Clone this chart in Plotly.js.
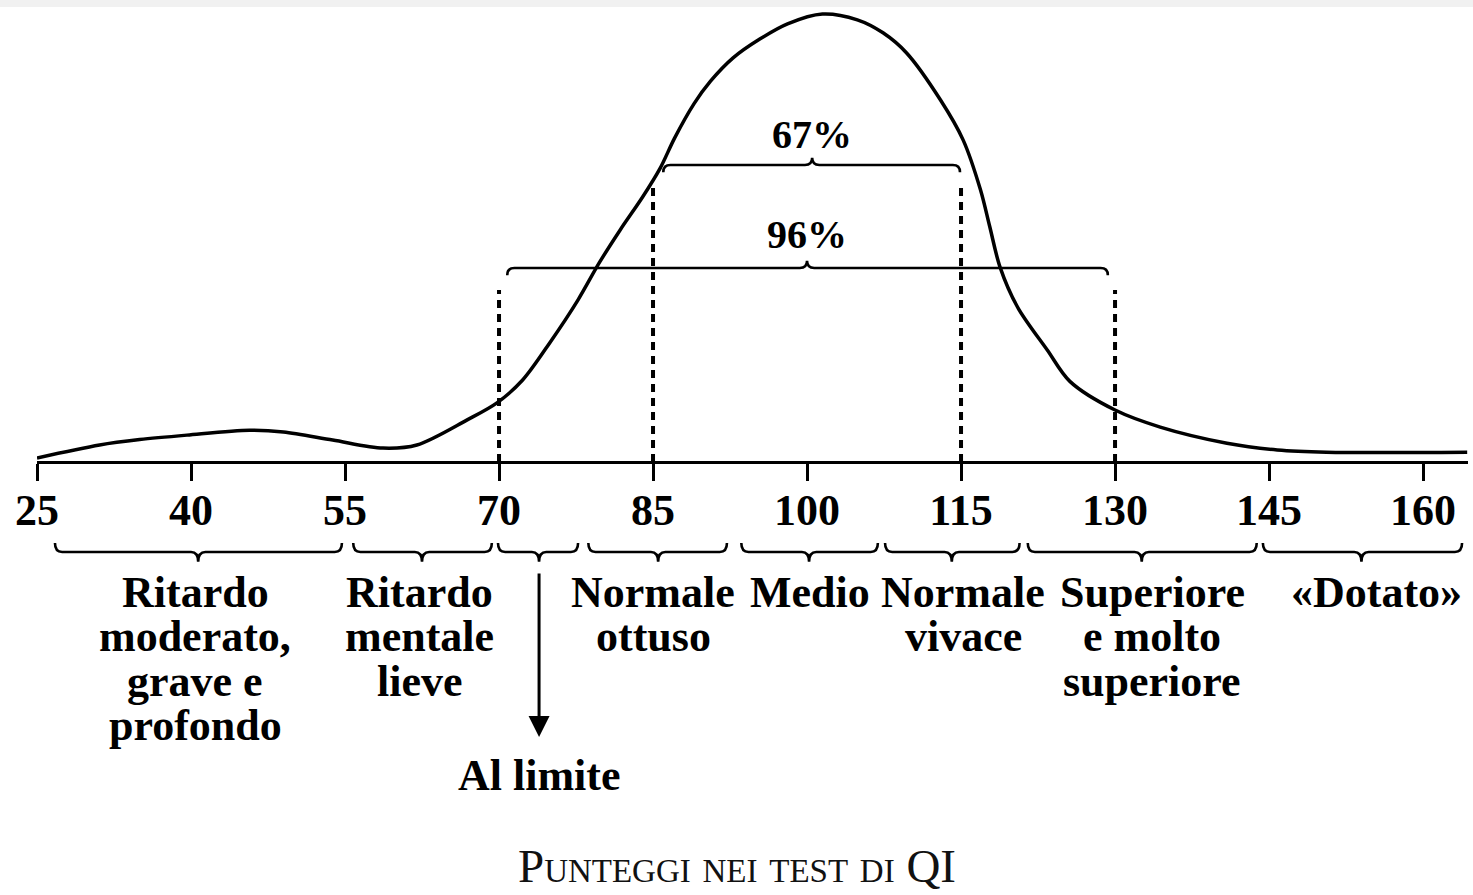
<!DOCTYPE html>
<html>
<head>
<meta charset="utf-8">
<script src="https://cdn.plot.ly/plotly-3.0.1.min.js"></script>
<style>
  html, body { margin: 0; padding: 0; background: #ffffff; }
  #chart { width: 1473px; height: 895px; }
</style>
</head>
<body>
<div id="chart"></div>
<script>
// ---------------- DATA ----------------
const iqScores  = [25, 31.1, 35.0, 39.6, 45.7, 49.0, 53.8, 58.7, 62.0, 66.9, 69.8, 72.3, 75.0, 77.7, 79.8, 81.8, 84.0, 85.7, 87.1, 89.0, 90.6, 92.8, 95.4, 98.1, 101.5, 104.9, 107.4, 109.7, 113.0, 115.2, 116.9, 117.8, 118.8, 120.5, 123.4, 125.6, 130.0, 134.4, 140.9, 145.8, 150.6, 164.3];
const frequency = [0.9, 3.8, 5.0, 6.0, 7.1, 6.7, 4.9, 3.1, 3.8, 9.4, 13.2, 18.3, 26.8, 36.2, 44.6, 51.8, 59.2, 65.6, 72.3, 80.0, 85.0, 90.2, 94.4, 97.8, 100, 98.7, 95.8, 91.3, 80.8, 71.9, 60.7, 52.5, 43.5, 34.6, 25.0, 18.0, 11.6, 7.8, 4.2, 2.7, 2.2, 2.2];

const tickValues = [25, 40, 55, 70, 85, 100, 115, 130, 145, 160];

const cutoffScores  = [70, 85, 115, 130];
const cutoffHeights = [38.4, 61.8, 61.8, 38.4];

const rangeLabels = ["67%", "96%"];
const rangeStart  = [86.0, 70.8];
const rangeEnd    = [114.9, 129.3];
const rangeCenter = [100.5, 100.0];

const categoryLines = [
  ["Ritardo", "moderato,", "grave e", "profondo"],
  ["Ritardo", "mentale", "lieve"],
  ["Normale", "ottuso"],
  ["Medio"],
  ["Normale", "vivace"],
  ["Superiore", "e molto", "superiore"],
  ["«Dotato»"]
];
const categoryCenter = [40.4, 62.3, 85.0, 100.3, 115.2, 133.6, 155.5];

const braceStart = [26.75, 55.8, 69.9, 78.7, 93.6, 107.6, 121.5, 144.4];
const braceEnd   = [54.7, 69.3, 77.7, 92.2, 106.9, 120.7, 143.8, 163.8];
const braceMid   = [40.7, 62.5, 73.9, 85.5, 100.2, 114.1, 132.6, 154.0];

const borderlineLabel = "Al limite";
const borderlineScore = 73.9;

const axisTitle = "Punteggi nei test di QI";

// ---------------- GEOMETRY / STYLE ----------------
const W = 1473, H = 895;
const axisPx = 462;            // pixel row of the x axis line
const pxPerUnitY = 4.48;       // vertical scale (frequency units)
const pxPerUnitX = 10.267;     // horizontal scale (IQ points)
const leftPx = 37, rightPx = 1468;
const yOf = px => (axisPx - px) / pxPerUnitY;   // helper for label placement

const FONT = "Liberation Serif, Times New Roman, serif";

const shapes = [];
// light grey strip on top
shapes.push({type: "rect", xref: "paper", yref: "paper", x0: 0, x1: 1, y0: 1 - 7 / H, y1: 1,
             fillcolor: "#f1f1f1", line: {width: 0}, layer: "below"});

// dashed cutoff lines
cutoffScores.forEach((s, i) => {
  shapes.push({type: "line", xref: "x", yref: "y", x0: s, x1: s, y0: 0, y1: cutoffHeights[i],
               line: {color: "#000", width: 4, dash: "8px,6px"}});
});

function bracePath(x0, x1, xm, yb, dir, hook, tip, dx) {
  const ye = yb - dir * hook;
  const yt = yb + dir * tip;
  return `M ${x0},${ye} Q ${x0},${yb} ${x0 + dx},${yb} L ${xm - dx},${yb} Q ${xm},${yb} ${xm},${yt} ` +
         `Q ${xm},${yb} ${xm + dx},${yb} L ${x1 - dx},${yb} Q ${x1},${yb} ${x1},${ye}`;
}

// brackets above (67%, 96%)
const rangeLevelPx = [165, 268];
rangeLabels.forEach((t, i) => {
  shapes.push({type: "path", xref: "x", yref: "y",
               path: bracePath(rangeStart[i], rangeEnd[i], rangeCenter[i], yOf(rangeLevelPx[i]), 1, 1.6, 1.6, 0.7),
               line: {color: "#000", width: 2.6}});
});

// braces below the axis
braceStart.forEach((s, i) => {
  shapes.push({type: "path", xref: "x", yref: "y",
               path: bracePath(s, braceEnd[i], braceMid[i], yOf(552), -1, 2.0, 2.2, 0.7),
               line: {color: "#000", width: 2.6}});
});

const annotations = [];
const rangeLabelPx = [134, 234];
rangeLabels.forEach((t, i) => {
  annotations.push({x: rangeCenter[i], y: yOf(rangeLabelPx[i]), xref: "x", yref: "y", text: t,
                    showarrow: false, xanchor: "center", yanchor: "middle",
                    font: {family: FONT, size: 40, color: "#000", weight: "bold"}});
});

const firstLinePx = 592, lineStepPx = 44.5;
categoryLines.forEach((lines, i) => {
  lines.forEach((ln, j) => {
    annotations.push({x: categoryCenter[i], y: yOf(firstLinePx + j * lineStepPx), xref: "x", yref: "y",
                      text: ln, showarrow: false, xanchor: "center", yanchor: "middle",
                      font: {family: FONT, size: 44, color: "#000", weight: "bold"}});
  });
});

// arrow to "Al limite"
annotations.push({x: borderlineScore, y: yOf(737), xref: "x", yref: "y",
                  ax: borderlineScore, ay: yOf(572), axref: "x", ayref: "y",
                  text: "", showarrow: true, arrowhead: 2, arrowsize: 1.4, arrowwidth: 3, arrowcolor: "#000"});
annotations.push({x: borderlineScore, y: yOf(775), xref: "x", yref: "y", text: borderlineLabel,
                  showarrow: false, xanchor: "center", yanchor: "middle",
                  font: {family: FONT, size: 44, color: "#000", weight: "bold"}});

// axis title
annotations.push({x: 0.5, y: 1 / H, xref: "paper", yref: "paper", text: axisTitle,
                  showarrow: false, xanchor: "center", yanchor: "bottom",
                  font: {family: FONT, size: 47, color: "#111", variant: "small-caps"}});

const trace = {
  x: iqScores, y: frequency, type: "scatter", mode: "lines",
  line: {color: "#000", width: 3.5, shape: "spline", smoothing: 0.9},
  hoverinfo: "skip", cliponaxis: false
};

const layout = {
  width: W, height: H,
  margin: {l: 0, r: 0, t: 0, b: 0},
  paper_bgcolor: "#ffffff", plot_bgcolor: "#ffffff",
  showlegend: false,
  xaxis: {
    domain: [leftPx / W, rightPx / W],
    range: [25, 25 + (rightPx - leftPx) / pxPerUnitX],
    anchor: "free", position: (H - axisPx) / H,
    showline: true, linecolor: "#000", linewidth: 3,
    ticks: "outside", ticklen: 17, tickwidth: 3, tickcolor: "#000",
    ticklabelstandoff: -9,
    tickmode: "array", tickvals: tickValues, ticktext: tickValues.map(String),
    tickfont: {family: FONT, size: 44, color: "#000", weight: "bold"},
    showgrid: false, zeroline: false, fixedrange: true
  },
  yaxis: {
    domain: [0, 1],
    range: [yOf(H), yOf(0)],
    visible: false, fixedrange: true
  },
  shapes: shapes,
  annotations: annotations
};

Plotly.newPlot("chart", [trace], layout, {staticPlot: true, displayModeBar: false});
</script>
</body>
</html>
